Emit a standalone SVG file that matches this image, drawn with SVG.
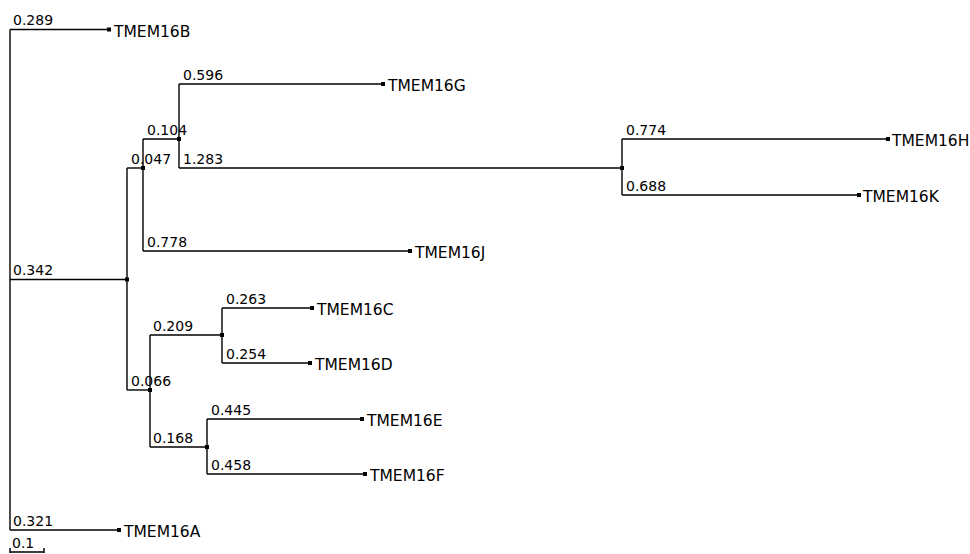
<svg xmlns="http://www.w3.org/2000/svg" width="970" height="554" viewBox="0 0 970 554">
<style>
.e{fill:none;stroke:#000;stroke-width:1.4}
.d{fill:#000}
.bl{font-family:"DejaVu Sans","Liberation Sans",sans-serif;font-size:14px;fill:#000}
.lf{font-family:"DejaVu Sans","Liberation Sans",sans-serif;font-size:15.5px;fill:#000}
</style>
<rect width="970" height="554" fill="#fff"/>
<g id="connectors">
<path class="e" d="M10,29.5V530"/>
<path class="e" d="M10,29.5H109"/>
<path class="e" d="M10,279.5H127"/>
<path class="e" d="M10,530H119"/>
<path class="e" d="M127,168V390"/>
<path class="e" d="M127,168H143"/>
<path class="e" d="M143,139V251"/>
<path class="e" d="M143,139H179"/>
<path class="e" d="M143,251H410"/>
<path class="e" d="M179,84V168"/>
<path class="e" d="M179,84H383"/>
<path class="e" d="M179,168H622"/>
<path class="e" d="M622,139V195"/>
<path class="e" d="M622,139H888"/>
<path class="e" d="M622,195H859"/>
<path class="e" d="M127,390H150"/>
<path class="e" d="M150,335V447"/>
<path class="e" d="M150,335H222"/>
<path class="e" d="M222,308V363"/>
<path class="e" d="M222,308H312"/>
<path class="e" d="M222,363H310"/>
<path class="e" d="M150,447H207"/>
<path class="e" d="M207,419V474"/>
<path class="e" d="M207,419H362"/>
<path class="e" d="M207,474H365"/>
</g>
<g id="branch-labels">
<text class="bl" x="13" y="25">0.289</text>
<text class="bl" x="13" y="275">0.342</text>
<text class="bl" x="13" y="526">0.321</text>
<text class="bl" x="131" y="164">0.047</text>
<text class="bl" x="147" y="135">0.104</text>
<text class="bl" x="147" y="247">0.778</text>
<text class="bl" x="183" y="80">0.596</text>
<text class="bl" x="183" y="164">1.283</text>
<text class="bl" x="626" y="135">0.774</text>
<text class="bl" x="626" y="191">0.688</text>
<text class="bl" x="131" y="386">0.066</text>
<text class="bl" x="153" y="331">0.209</text>
<text class="bl" x="226" y="304">0.263</text>
<text class="bl" x="226" y="359">0.254</text>
<text class="bl" x="153" y="443">0.168</text>
<text class="bl" x="211" y="415">0.445</text>
<text class="bl" x="211" y="470">0.458</text>
</g>
<g id="n-342"><rect class="d" x="125" y="277.5" width="4" height="4"/></g>
<g id="n-047"><rect class="d" x="141" y="166" width="4" height="4"/></g>
<g id="n-104"><rect class="d" x="177" y="137" width="4" height="4"/></g>
<g id="n-1283"><rect class="d" x="620" y="166" width="4" height="4"/></g>
<g id="n-066"><rect class="d" x="148" y="388" width="4" height="4"/></g>
<g id="n-209"><rect class="d" x="220" y="333" width="4" height="4"/></g>
<g id="n-168"><rect class="d" x="205" y="445" width="4" height="4"/></g>
<g id="TMEM16B"><rect class="d" x="107" y="27.5" width="4" height="4"/><text class="lf" x="114" y="36.5">TMEM16B</text></g>
<g id="TMEM16G"><rect class="d" x="381" y="82" width="4" height="4"/><text class="lf" x="388" y="91">TMEM16G</text></g>
<g id="TMEM16H"><rect class="d" x="886" y="137" width="4" height="4"/><text class="lf" x="892" y="146">TMEM16H</text></g>
<g id="TMEM16K"><rect class="d" x="857" y="193" width="4" height="4"/><text class="lf" x="863" y="202">TMEM16K</text></g>
<g id="TMEM16J"><rect class="d" x="408" y="249" width="4" height="4"/><text class="lf" x="415" y="258">TMEM16J</text></g>
<g id="TMEM16C"><rect class="d" x="310" y="306" width="4" height="4"/><text class="lf" x="317" y="315">TMEM16C</text></g>
<g id="TMEM16D"><rect class="d" x="308" y="361" width="4" height="4"/><text class="lf" x="315" y="370">TMEM16D</text></g>
<g id="TMEM16E"><rect class="d" x="360" y="417" width="4" height="4"/><text class="lf" x="367" y="426">TMEM16E</text></g>
<g id="TMEM16F"><rect class="d" x="363" y="472" width="4" height="4"/><text class="lf" x="370" y="481">TMEM16F</text></g>
<g id="TMEM16A"><rect class="d" x="117" y="528" width="4" height="4"/><text class="lf" x="124" y="537">TMEM16A</text></g>
<g id="scale-bar">
<path class="e" d="M10,548V553M10,552H44M44,548V553"/>
<text class="bl" x="12" y="548">0.1</text>
</g>
</svg>
